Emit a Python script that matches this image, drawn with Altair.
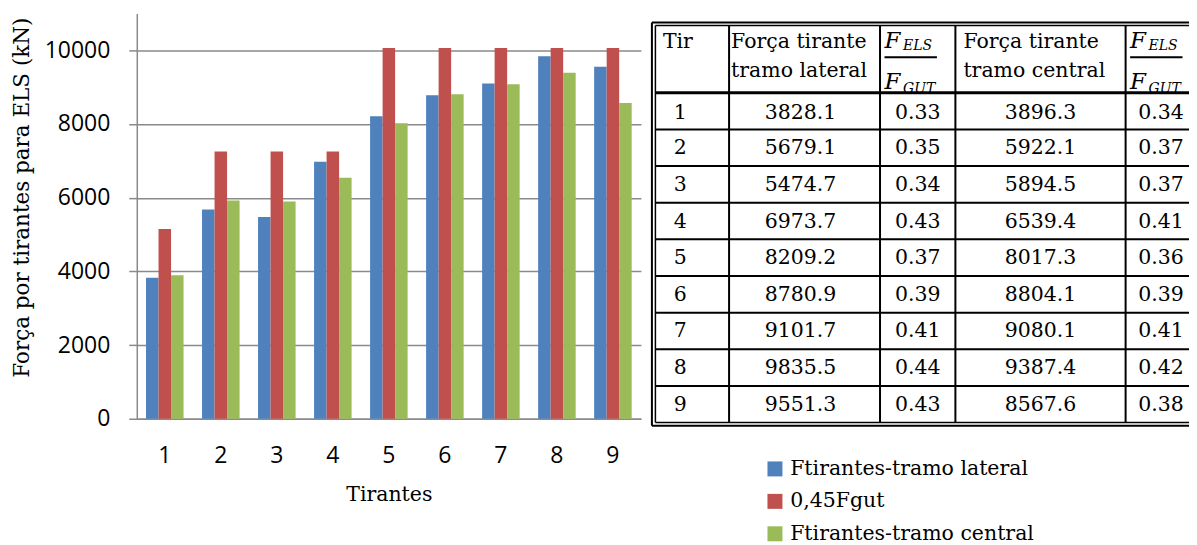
import altair as alt
import pandas as pd

# ---------------- data ----------------
tirantes = [1, 2, 3, 4, 5, 6, 7, 8, 9]
f_lateral = [3828.1, 5679.1, 5474.7, 6973.7, 8209.2, 8780.9, 9101.7, 9835.5, 9551.3]
f_045gut = [5150, 7250, 7250, 7250, 10060, 10060, 10060, 10060, 10060]
f_central = [3896.3, 5922.1, 5894.5, 6539.4, 8017.3, 8804.1, 9080.1, 9387.4, 8567.6]
ratio_lateral = [0.33, 0.35, 0.34, 0.43, 0.37, 0.39, 0.41, 0.44, 0.43]
ratio_central = [0.34, 0.37, 0.37, 0.41, 0.36, 0.39, 0.41, 0.42, 0.38]
series_names = ["Ftirantes-tramo lateral", "0,45Fgut", "Ftirantes-tramo central"]
series_colors = ["#4F81BD", "#C0504D", "#9BBB59"]
y_ticks = [0, 2000, 4000, 6000, 8000, 10000]
header_tir = "Tir"
header_force_1 = ["Força tirante", "tramo lateral"]
header_force_2 = ["Força tirante", "tramo central"]

SERIF = "DejaVu Serif"
SANS = "Open Sans"
GRID = "#8a8a8a"
FS = 20.5

# ---------------- bar chart ----------------
rows = []
for i, t in enumerate(tirantes):
    for name, vals in zip(series_names, [f_lateral, f_045gut, f_central]):
        rows.append({"Tirante": t, "Serie": name, "Valor": vals[i]})
bar_df = pd.DataFrame(rows)

bars = alt.Chart(bar_df).mark_bar().encode(
    x=alt.X("Tirante:O", title="Tirantes",
            scale=alt.Scale(paddingInner=0.33, paddingOuter=0.165),
            axis=alt.Axis(labelAngle=0, ticks=False, labelPadding=26, titlePadding=17,
                          domainColor=GRID, domainWidth=1.5, grid=False,
                          labelFontSize=23, titleFontSize=FS)),
    xOffset=alt.XOffset("Serie:N", sort=series_names),
    y=alt.Y("Valor:Q", title="Força por tirantes para ELS (kN)",
            scale=alt.Scale(domain=[0, 11000], nice=False),
            axis=alt.Axis(values=y_ticks, format="d", tickSize=8, tickColor=GRID, tickWidth=1.5,
                          labelPadding=19, domainColor=GRID, domainWidth=1.5,
                          gridColor=GRID, gridWidth=1.5, labelFontSize=23, titleFontSize=21.5,
                          titleX=-103, titleY=184)),
    color=alt.Color("Serie:N", sort=series_names,
                    scale=alt.Scale(domain=series_names, range=series_colors),
                    legend=alt.Legend(title=None, orient="none", legendX=629, legendY=446,
                                      symbolType="square", symbolSize=225, symbolStrokeWidth=0,
                                      labelFont=SERIF, labelFontSize=FS, labelOffset=5,
                                      labelLimit=0, rowPadding=11.5, padding=0,
                                      labelColor="black")),
).properties(width=505, height=406)

# ---------------- table ----------------
TW, TH = 544, 420
xs = alt.Scale(domain=[0, TW], range=[0, TW], nice=False, zero=False)
ys = alt.Scale(domain=[0, TH], reverse=True, nice=False, zero=False)

# layout constants (panel pixels)
outer_l, inner_l = 6, 9.5
outer_t, inner_t = 9, 12
col_lines = [83.3, 234.5, 310, 480.5]
head_b = 79.5
row_h = 36.7
inner_b = head_b + 9 * row_h
outer_b = inner_b + 3.3
right_end = 600

lines_thin = [(inner_l, inner_l, inner_t, inner_b),
              (inner_l, right_end, inner_t, inner_t),
              (inner_l, right_end, inner_b, inner_b)]
lines_outer = [(outer_l, outer_l, outer_t, outer_b),
               (outer_l, right_end, outer_t, outer_t),
               (outer_l, right_end, outer_b, outer_b)]
lines_grid = [(c, c, inner_t, inner_b) for c in col_lines]
lines_grid += [(inner_l, right_end, head_b + k * row_h, head_b + k * row_h) for k in range(1, 9)]
lines_head = [(inner_l, right_end, head_b, head_b)]


def rule_layer(lst, width):
    df = pd.DataFrame(lst, columns=["x", "x2", "y", "y2"])
    return alt.Chart(df).mark_rule(color="black", strokeWidth=width, clip=True).encode(
        x=alt.X("x:Q", scale=xs, axis=None), x2="x2:Q",
        y=alt.Y("y:Q", scale=ys, axis=None), y2="y2:Q")


cells_left, cells_center = [], []
for k in range(9):
    yc = head_b + (k + 0.5) * row_h + (1.5 if k == 0 else 0.5)
    cells_left.append({"x": 28, "y": yc, "t": str(tirantes[k])})
    cells_center.append({"x": (col_lines[0] + col_lines[1]) / 2 - 4, "y": yc, "t": f"{f_lateral[k]:.1f}"})
    cells_center.append({"x": (col_lines[1] + col_lines[2]) / 2, "y": yc, "t": f"{ratio_lateral[k]:.2f}"})
    cells_center.append({"x": (col_lines[2] + col_lines[3]) / 2, "y": yc, "t": f"{f_central[k]:.1f}"})
    cells_center.append({"x": col_lines[3] + 35.5, "y": yc, "t": f"{ratio_central[k]:.2f}"})

line1_y, line2_y = 28.5, 58
cells_left.append({"x": 17, "y": line1_y, "t": header_tir})
cells_left.append({"x": col_lines[0] + 2, "y": line1_y, "t": header_force_1[0]})
cells_left.append({"x": col_lines[0] + 2, "y": line2_y, "t": header_force_1[1]})
cells_left.append({"x": col_lines[2] + 8, "y": line1_y, "t": header_force_2[0]})
cells_left.append({"x": col_lines[2] + 8, "y": line2_y, "t": header_force_2[1]})

frac_big, frac_sub, frac_bar = [], [], []
for c in [col_lines[1], col_lines[3]]:
    frac_big.append({"x": c + 4.5, "y": 28, "t": "F"})
    frac_big.append({"x": c + 4.5, "y": 69, "t": "F"})
    frac_sub.append({"x": c + 23, "y": 33, "t": "ELS"})
    frac_sub.append({"x": c + 23, "y": 75.5, "t": "GUT"})
    frac_bar.append((c + 4.5, c + 57, 44, 44))


def text_layer(lst, align, size, style="normal"):
    df = pd.DataFrame(lst)
    return alt.Chart(df).mark_text(align=align, baseline="middle", font=SERIF, fontSize=size,
                                   fontStyle=style, color="black", clip=True).encode(
        x=alt.X("x:Q", scale=xs, axis=None),
        y=alt.Y("y:Q", scale=ys, axis=None),
        text="t:N")


table = alt.layer(
    rule_layer(lines_outer, 2),
    rule_layer(lines_thin, 1.5),
    rule_layer(lines_grid, 2),
    rule_layer(lines_head, 3),
    rule_layer(frac_bar, 2),
    text_layer(cells_left, "left", FS),
    text_layer(cells_center, "center", FS),
    text_layer(frac_big, "left", 23, "italic"),
    text_layer(frac_sub, "left", 14, "italic"),
).properties(width=TW, height=TH)

chart = alt.hconcat(bars, table, spacing=5).properties(
    padding={"left": 3, "top": 5, "right": 0, "bottom": 0}
).configure_view(strokeWidth=0).configure_axis(
    labelFont=SANS, titleFont=SERIF, titleFontWeight="normal",
    labelColor="black", titleColor="black"
)

chart.save("out.html", embed_options={"renderer": "svg", "actions": False})
